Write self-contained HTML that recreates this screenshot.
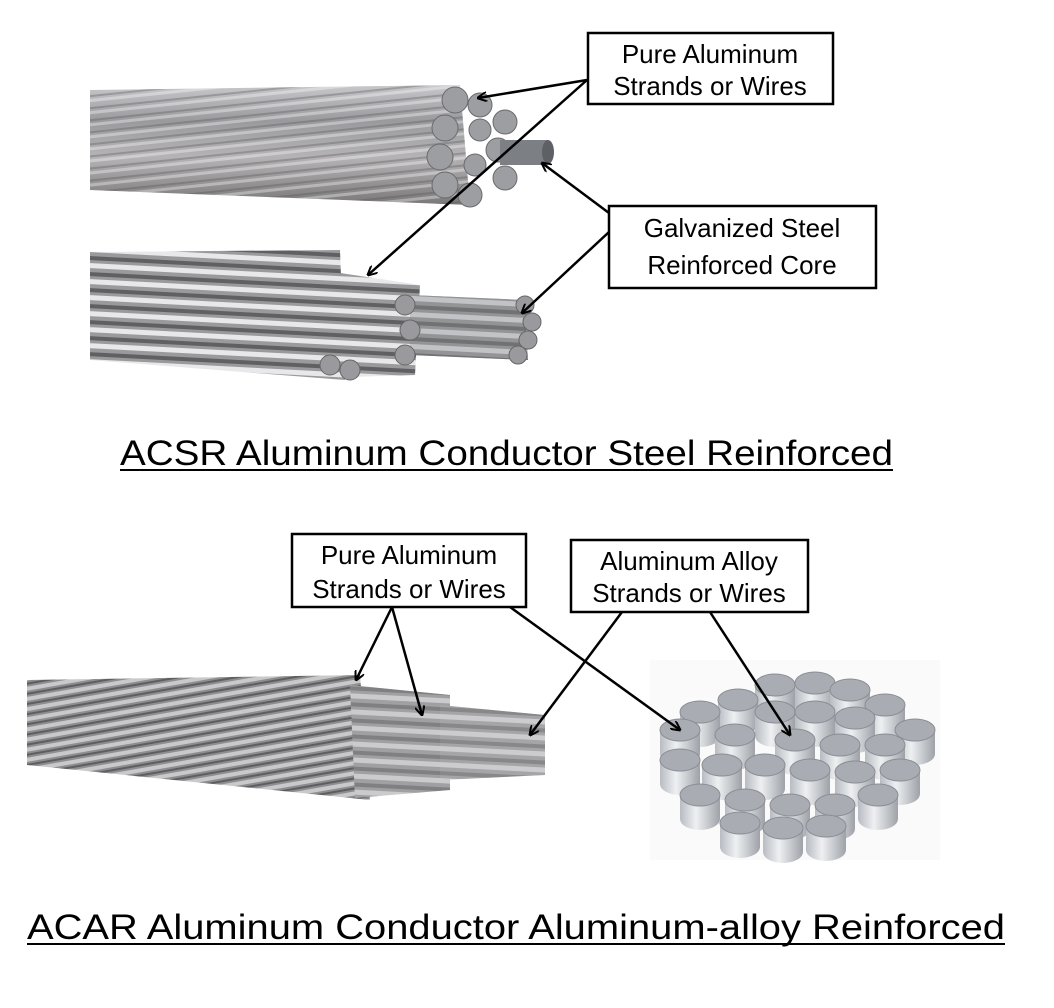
<!DOCTYPE html>
<html><head><meta charset="utf-8"><style>
html,body{margin:0;padding:0;background:#fff;}
svg{display:block;}
text{font-family:"Liberation Sans",sans-serif;fill:#000;}
</style></head><body>
<svg width="1054" height="1008" viewBox="0 0 1054 1008" xmlns="http://www.w3.org/2000/svg">
<defs>
<linearGradient id="g1" x1="0" y1="0" x2="0" y2="1">
<stop offset="0" stop-color="#c8c8cc"/><stop offset="0.3" stop-color="#9a9a9e"/><stop offset="0.6" stop-color="#b5b3b5"/><stop offset="1" stop-color="#7a7878"/></linearGradient>
<pattern id="tw" width="40" height="12" patternUnits="userSpaceOnUse" patternTransform="rotate(-6)">
<rect width="40" height="12" fill="none"/><rect y="0" width="40" height="3" fill="#ffffff" opacity="0.35"/><rect y="8" width="40" height="2" fill="#555" opacity="0.35"/></pattern>
<pattern id="st" width="40" height="16" patternUnits="userSpaceOnUse" patternTransform="rotate(3)">
<rect width="40" height="16" fill="#9a9a9c"/><rect y="2" width="40" height="5" fill="#e8e8ea"/><rect y="11" width="40" height="4" fill="#606062"/></pattern>
<pattern id="tw2" width="40" height="10" patternUnits="userSpaceOnUse" patternTransform="rotate(-10)">
<rect width="40" height="10" fill="#8e8e90"/><rect y="1" width="40" height="4" fill="#c9c9cb"/><rect y="7" width="40" height="2" fill="#5e5e60"/></pattern>
<linearGradient id="side" x1="0" y1="0" x2="1" y2="0"><stop offset="0" stop-color="#b8bcc2"/><stop offset="0.4" stop-color="#eef0f2"/><stop offset="1" stop-color="#9ea2a8"/></linearGradient>
<marker id="ah" markerWidth="10" markerHeight="10" refX="9" refY="5" orient="auto" markerUnits="userSpaceOnUse"><path d="M0,0 L10,5 L0,10" fill="none" stroke="#000" stroke-width="2"/></marker>
<g id="c"><rect x="-20" y="0" width="40" height="24" fill="url(#side)"/><ellipse cx="0" cy="24" rx="20" ry="11" fill="url(#side)"/><ellipse cx="0" cy="0" rx="20" ry="11" fill="#a9adb3" stroke="#8a8e94"/></g>
</defs>

<!-- top cable -->
<path d="M90,90 L460,85 L470,205 L90,190 Z" fill="url(#g1)"/>
<path d="M90,90 L460,85 L470,205 L90,190 Z" fill="url(#tw)"/>
<g fill="#9c9ea2" stroke="#6a6a6e" stroke-width="1">
<circle cx="455" cy="100" r="13"/><circle cx="480" cy="105" r="12"/><circle cx="445" cy="128" r="13"/><circle cx="505" cy="122" r="12"/>
<circle cx="440" cy="157" r="13"/><circle cx="498" cy="150" r="12"/><circle cx="445" cy="185" r="13"/><circle cx="505" cy="178" r="12"/>
<circle cx="470" cy="195" r="12"/><circle cx="480" cy="130" r="11"/><circle cx="475" cy="165" r="11"/>
</g>
<rect x="500" y="140" width="48" height="25" fill="#7c8085"/><ellipse cx="548" cy="152" rx="6" ry="12" fill="#5d6166"/>

<!-- middle cable -->
<path d="M90,252 L340,250 L345,380 L90,360 Z" fill="url(#st)"/>
<path d="M320,270 L420,285 L415,375 L320,378 Z" fill="url(#st)"/>
<path d="M410,295 L525,300 L528,360 L410,355 Z" fill="#8a8c90"/>
<path d="M410,295 L525,300 L528,360 L410,355 Z" fill="url(#st)" opacity="0.6"/>
<g fill="#9a9a9e" stroke="#666" stroke-width="1">
<circle cx="525" cy="305" r="9"/><circle cx="532" cy="322" r="9"/><circle cx="528" cy="340" r="9"/><circle cx="518" cy="355" r="9"/>
<circle cx="330" cy="365" r="10"/><circle cx="350" cy="370" r="10"/><circle cx="405" cy="305" r="10"/><circle cx="410" cy="330" r="10"/><circle cx="405" cy="355" r="10"/>
</g>

<!-- bottom cable -->
<path d="M27,680 L360,675 L370,800 L27,765 Z" fill="url(#tw2)"/>
<path d="M350,685 L450,695 L450,790 L355,798 Z" fill="#a8a8aa"/>
<path d="M350,685 L450,695 L450,790 L355,798 Z" fill="url(#st)" opacity="0.55"/>
<path d="M440,705 L545,715 L545,775 L440,780 Z" fill="#b0b0b2"/>
<path d="M440,705 L545,715 L545,775 L440,780 Z" fill="url(#st)" opacity="0.5"/>

<!-- cross section -->
<rect x="650" y="660" width="290" height="200" fill="#fafafa"/>
<use href="#c" x="775" y="685"/><use href="#c" x="815" y="683"/><use href="#c" x="850" y="690"/>
<use href="#c" x="738" y="700"/><use href="#c" x="885" y="705"/><use href="#c" x="700" y="712"/>
<use href="#c" x="775" y="712"/><use href="#c" x="815" y="712"/><use href="#c" x="855" y="718"/>
<use href="#c" x="915" y="730"/><use href="#c" x="680" y="730"/><use href="#c" x="735" y="735"/>
<use href="#c" x="795" y="740"/><use href="#c" x="840" y="745"/><use href="#c" x="885" y="745"/>
<use href="#c" x="680" y="760"/><use href="#c" x="722" y="765"/><use href="#c" x="765" y="765"/>
<use href="#c" x="810" y="770"/><use href="#c" x="855" y="772"/><use href="#c" x="900" y="770"/>
<use href="#c" x="700" y="795"/><use href="#c" x="745" y="800"/><use href="#c" x="790" y="805"/>
<use href="#c" x="835" y="805"/><use href="#c" x="878" y="795"/><use href="#c" x="740" y="823"/>
<use href="#c" x="783" y="828"/><use href="#c" x="826" y="826"/>

<!-- arrows -->
<g stroke="#000" stroke-width="2.5" fill="none" marker-end="url(#ah)">
<line x1="587" y1="80" x2="478" y2="98"/>
<line x1="587" y1="80" x2="368" y2="275"/>
<line x1="609" y1="213" x2="542" y2="163"/>
<line x1="609" y1="232" x2="522" y2="313"/>
<line x1="392" y1="607" x2="356" y2="680"/>
<line x1="392" y1="607" x2="422" y2="715"/>
<line x1="510" y1="607" x2="680" y2="730"/>
<line x1="622" y1="612" x2="530" y2="735"/>
<line x1="710" y1="612" x2="790" y2="735"/>
</g>

<!-- boxes -->
<g fill="#fff" stroke="#000" stroke-width="2.5">
<rect x="588" y="33" width="245" height="71"/>
<rect x="609" y="206" width="267" height="82"/>
<rect x="292" y="534" width="234" height="73"/>
<rect x="571" y="540" width="237" height="72"/>
</g>
<g font-size="26" text-anchor="middle">
<text x="710" y="63">Pure Aluminum</text><text x="710" y="95">Strands or Wires</text>
<text x="742" y="237">Galvanized Steel</text><text x="742" y="274">Reinforced Core</text>
<text x="409" y="564">Pure Aluminum</text><text x="409" y="598">Strands or Wires</text>
<text x="689" y="570">Aluminum Alloy</text><text x="689" y="602">Strands or Wires</text>
</g>
<g font-size="35">
<text x="120" y="465" textLength="773" lengthAdjust="spacingAndGlyphs">ACSR Aluminum Conductor Steel Reinforced</text>
<text x="27" y="939" textLength="978" lengthAdjust="spacingAndGlyphs">ACAR Aluminum Conductor Aluminum-alloy Reinforced</text>
</g>
<line x1="120" y1="470" x2="893" y2="470" stroke="#000" stroke-width="2"/>
<line x1="27" y1="944" x2="1005" y2="944" stroke="#000" stroke-width="2"/>
</svg>
</body></html>
